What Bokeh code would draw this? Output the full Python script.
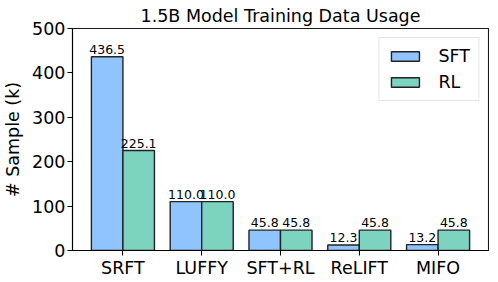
from bokeh.plotting import figure
from bokeh.models import Range1d, FixedTicker, ColumnDataSource, Legend, LegendItem, LabelSet
from bokeh.core.properties import value
from bokeh.transform import dodge
from bokeh.embed import file_html
from bokeh.resources import INLINE

categories = ["SRFT", "LUFFY", "SFT+RL", "ReLIFT", "MIFO"]
sft_values = [436.5, 110.0, 45.8, 12.3, 13.2]
rl_values = [225.1, 110.0, 45.8, 45.8, 45.8]
y_ticks = [0, 100, 200, 300, 400, 500]

FONT = "DejaVu Sans"
BLUE = "#90c4ff"
GREEN = "#7bd3c0"

idx = list(range(len(categories)))
src = ColumnDataSource(dict(
    x=idx,
    sft=sft_values,
    rl=rl_values,
    sft_lbl=["%.1f" % v for v in sft_values],
    rl_lbl=["%.1f" % v for v in rl_values],
))

p = figure(frame_width=416, frame_height=222, output_backend="svg", toolbar_location=None,
           x_range=Range1d(-0.64, len(categories) - 1 + 0.64), y_range=Range1d(0, 500),
           min_border_left=0, min_border_right=1, min_border_top=0, min_border_bottom=0)

p.title.text = "1.5B Model Training Data Usage"
p.title.align = "center"
p.title.text_font = FONT
p.title.text_font_size = "17.5px"
p.title.text_font_style = "normal"
p.title.text_color = "black"
p.title.standoff = 6
p.title.offset = 0

bw = 0.4
r1 = p.vbar(x=dodge("x", -bw / 2, range=p.x_range), top="sft", width=bw, source=src,
            fill_color=BLUE, line_color="#222222", line_width=1.4)
r2 = p.vbar(x=dodge("x", bw / 2, range=p.x_range), top="rl", width=bw, source=src,
            fill_color=GREEN, line_color="#222222", line_width=1.4)

for col, lbl, off in (("sft", "sft_lbl", -bw / 2), ("rl", "rl_lbl", bw / 2)):
    ls = LabelSet(x=dodge("x", off, range=p.x_range), y=col, text=lbl, source=src,
                  text_align="center", text_baseline="bottom", y_offset=3,
                  text_font=value(FONT), text_font_size=value("12.5px"), text_color="black")
    p.add_layout(ls)

p.xgrid.visible = False
p.ygrid.visible = False
p.outline_line_color = "black"
p.outline_line_width = 1.1
p.outline_line_alpha = 0.9

p.xaxis.ticker = FixedTicker(ticks=idx)
p.xaxis.major_label_overrides = {i: c for i, c in enumerate(categories)}
p.yaxis.ticker = FixedTicker(ticks=y_ticks)
p.yaxis.axis_label = "# Sample (k)"
for ax in (p.xaxis[0], p.yaxis[0]):
    ax.axis_line_color = "black"
    ax.axis_line_width = 1.1
    ax.major_tick_line_color = "black"
    ax.major_tick_out = 5
    ax.major_tick_in = 0
    ax.minor_tick_out = 0
    ax.minor_tick_in = 0
    ax.major_label_text_font = FONT
    ax.major_label_text_font_size = "17.5px"
    ax.major_label_text_color = "black"
    ax.major_label_standoff = 2
    ax.axis_label_text_font = FONT
    ax.axis_label_text_font_size = "17.5px"
    ax.axis_label_text_font_style = "normal"
    ax.axis_label_text_color = "black"
    ax.axis_label_standoff = 6
p.xaxis[0].axis_label_standoff = 0

legend = Legend(items=[LegendItem(label="SFT", renderers=[r1]),
                       LegendItem(label="RL", renderers=[r2])],
                location="top_right", margin=9, padding=8, spacing=6,
                glyph_width=35, glyph_height=12, label_standoff=16,
                label_text_font=FONT, label_text_font_size="17.5px",
                label_text_color="black",
                border_line_color="#cccccc", border_line_width=1,
                background_fill_alpha=0.8)
p.add_layout(legend)

open("out.html", "w").write(file_html(p, INLINE))
